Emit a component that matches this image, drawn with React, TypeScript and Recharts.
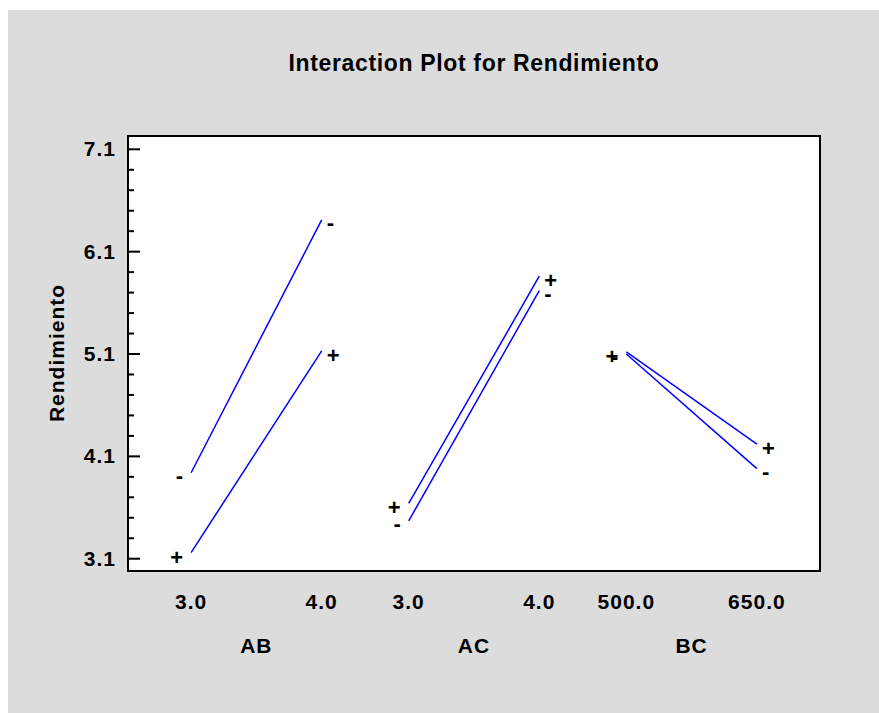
import React from 'react';
import { LineChart, Line, XAxis, YAxis } from 'recharts';

// factor pairs and the two levels of the second factor in each pair
const factors = ['AB', 'AC', 'BC'];
const levelLabels = [
  ['3.0', '4.0'],
  ['3.0', '4.0'],
  ['500.0', '650.0'],
];

// mean Rendimiento at low / high level, for the other factor at "-" and "+"
const minusLow = [3.94, 3.47, 5.1];
const minusHigh = [6.41, 5.72, 3.98];
const plusLow = [3.16, 3.64, 5.12];
const plusHigh = [5.13, 5.86, 4.22];

const majorTicks = [3.1, 4.1, 5.1, 6.1, 7.1];

const FONT = '"Liberation Sans", Arial, Helvetica, sans-serif';
const BLUE = '#0000ff';

// chart box and plot area (plot = margins + axis sizes)
const W = 871;
const H = 703;
const PLOT = { left: 120, top: 126, right: 812, bottom: 561 };

// each pair gets its own slot on one shared numeric x scale
const SLOT_START = [1.5, 6.5, 11.5];
const SLOT_SPAN = 3;
const X_DOMAIN: [number, number] = [0.05, 15.95];
const Y_DOMAIN: [number, number] = [2.98, 7.23];

const rows: any[] = [];
factors.forEach((f, i) => {
  const key = f.toLowerCase();
  rows.push({
    x: SLOT_START[i],
    side: 'low',
    label: levelLabels[i][0],
    [`${key}Minus`]: minusLow[i],
    [`${key}Plus`]: plusLow[i],
  });
  rows.push({
    x: SLOT_START[i] + SLOT_SPAN,
    side: 'high',
    label: levelLabels[i][1],
    [`${key}Minus`]: minusHigh[i],
    [`${key}Plus`]: plusHigh[i],
  });
});

const levelTicks = rows.map((r) => r.x);
const factorTicks = SLOT_START.map((s) => s + SLOT_SPAN / 2);

// major ticks every 1.0, minor every 0.2
const yTicks: number[] = [];
for (let i = 0; i <= 20; i++) yTicks.push(+(majorTicks[0] + i * 0.2).toFixed(1));
const isMajor = (v: number) => majorTicks.some((m) => Math.abs(m - v) < 1e-6);

const LeftTick = (props: any) => {
  const { x, y, payload } = props;
  const v = payload.value;
  const major = isMajor(v);
  const axisX = x + 12;
  return (
    <g>
      <line x1={axisX} x2={axisX + (major ? 12 : 6)} y1={y} y2={y} stroke="#000" strokeWidth={2} />
      {major && (
        <text x={x} y={y + 7} textAnchor="end" fontSize={21} fontWeight="bold" letterSpacing={1} fill="#000">
          {v.toFixed(1)}
        </text>
      )}
    </g>
  );
};

const RightTick = (props: any) => {
  const { x, y, payload } = props;
  const major = isMajor(payload.value);
  return <line x1={x - (major ? 12 : 6)} x2={x} y1={y} y2={y} stroke="#000" strokeWidth={2} />;
};

// "+" / "-" tags beside both ends of each line
const makeMarker = (sign: string) => (props: any) => {
  const { cx, cy, payload, index } = props;
  const key = `${sign}-${index}`;
  if (cy == null || Number.isNaN(cy)) return <g key={key} />;
  const low = payload.side === 'low';
  return (
    <text
      key={key}
      x={low ? cx - 8 : cx + 5}
      y={cy + (sign === '+' ? 12 : 10)}
      textAnchor={low ? 'end' : 'start'}
      fontSize={22}
      fontWeight="bold"
      fill="#000"
    >
      {sign}
    </text>
  );
};

const plusMarker = makeMarker('+');
const minusMarker = makeMarker('-');

const tickStyle = { fontSize: 21, fontWeight: 'bold', fill: '#000', letterSpacing: 1 };

export default function App() {
  return (
    <div
      style={{
        position: 'absolute',
        left: 8,
        top: 10,
        width: W,
        height: H,
        background: '#dcdcdc',
        fontFamily: FONT,
      }}
    >
      {/* white plot panel with its black frame, sits under the svg */}
      <div
        style={{
          position: 'absolute',
          left: PLOT.left - 1,
          top: PLOT.top - 1,
          width: PLOT.right - PLOT.left + 2,
          height: PLOT.bottom - PLOT.top + 2,
          boxSizing: 'border-box',
          border: '2px solid #000',
          background: '#fff',
        }}
      />
      <div
        style={{
          position: 'absolute',
          left: PLOT.left,
          top: 42,
          width: PLOT.right - PLOT.left,
          textAlign: 'center',
          fontSize: 23,
          lineHeight: '23px',
          fontWeight: 'bold',
          letterSpacing: 0.65,
          color: '#000',
        }}
      >
        Interaction Plot for Rendimiento
      </div>
      <div
        style={{
          position: 'absolute',
          left: 49,
          top: 343,
          transform: 'translate(-50%, -50%) rotate(-90deg)',
          whiteSpace: 'nowrap',
          fontSize: 21,
          fontWeight: 'bold',
          letterSpacing: 1,
          color: '#000',
        }}
      >
        Rendimiento
      </div>
      <LineChart
        width={W}
        height={H}
        data={rows}
        margin={{ top: PLOT.top, right: W - PLOT.right - 10, bottom: 42, left: 0 }}
        style={{ position: 'absolute', left: 0, top: 0 }}
      >
        {/* group names below the level labels */}
        <XAxis
          xAxisId="b"
          type="number"
          dataKey="x"
          domain={X_DOMAIN}
          ticks={factorTicks}
          interval={0}
          tickFormatter={(v: number) => factors[factorTicks.indexOf(v)] ?? ''}
          height={60}
          tickSize={0}
          tickMargin={27}
          tickLine={false}
          axisLine={false}
          tick={tickStyle}
        />
        <XAxis
          xAxisId="a"
          type="number"
          dataKey="x"
          domain={X_DOMAIN}
          ticks={levelTicks}
          interval={0}
          tickFormatter={(v: number) => rows.find((r) => r.x === v)?.label ?? ''}
          height={40}
          tickSize={0}
          tickMargin={23}
          tickLine={false}
          axisLine={false}
          tick={tickStyle}
        />
        <YAxis
          yAxisId="left"
          type="number"
          domain={Y_DOMAIN}
          ticks={yTicks}
          interval={0}
          width={120}
          tickSize={0}
          tickMargin={12}
          tickLine={false}
          axisLine={false}
          tick={<LeftTick />}
        />
        <YAxis
          yAxisId="right"
          orientation="right"
          type="number"
          domain={Y_DOMAIN}
          ticks={yTicks}
          interval={0}
          width={10}
          tickSize={0}
          tickMargin={0}
          tickLine={false}
          axisLine={false}
          tick={<RightTick />}
        />
        {factors.map((f) => {
          const key = f.toLowerCase();
          return (
            <React.Fragment key={f}>
              <Line
                xAxisId="a"
                yAxisId="left"
                type="linear"
                dataKey={`${key}Minus`}
                stroke={BLUE}
                strokeWidth={1.5}
                dot={minusMarker}
                activeDot={false}
                connectNulls={false}
                isAnimationActive={false}
              />
              <Line
                xAxisId="a"
                yAxisId="left"
                type="linear"
                dataKey={`${key}Plus`}
                stroke={BLUE}
                strokeWidth={1.5}
                dot={plusMarker}
                activeDot={false}
                connectNulls={false}
                isAnimationActive={false}
              />
            </React.Fragment>
          );
        })}
      </LineChart>
    </div>
  );
}
